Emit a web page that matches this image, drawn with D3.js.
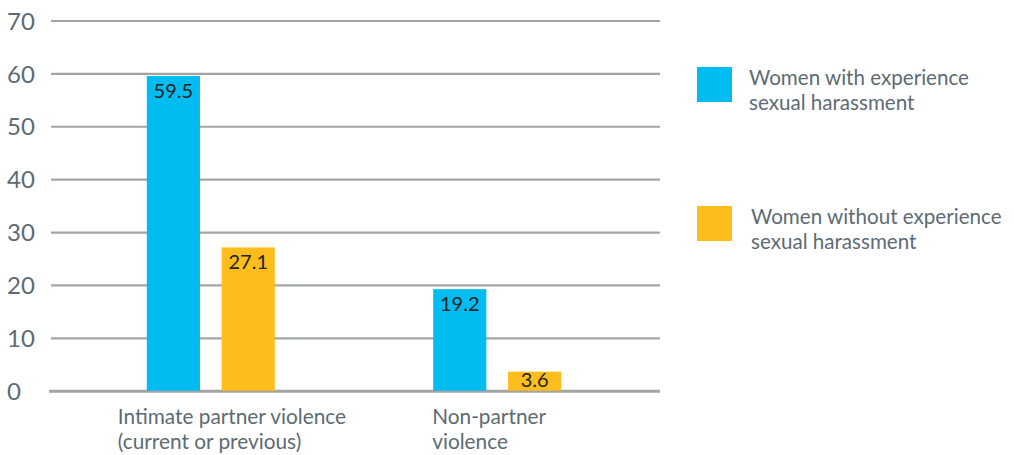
<!DOCTYPE html>
<html>
<head>
<meta charset="utf-8">
<script src="https://cdn.jsdelivr.net/npm/d3@7"></script>
<style>
  html, body { margin: 0; padding: 0; background: #fff; }
  svg { display: block; font-family: Lato, "Open Sans", sans-serif; }
</style>
</head>
<body>
<svg id="chart" width="1014" height="455"></svg>
<script>
// Share of women who experienced violence, by experience of sexual harassment (%)
const categories = [
  ["Intimate partner violence", "(current or previous)"],
  ["Non-partner", "violence"]
];
const seriesNames = [
  ["Women with experience", "sexual harassment"],
  ["Women without experience", "sexual harassment"]
];
const withHarassment = [59.5, 19.2];
const withoutHarassment = [27.1, 3.6];
const yTicks = [0, 10, 20, 30, 40, 50, 60, 70];

const colors = ["#00bcf1", "#fdbd1d"];
const series = [withHarassment, withoutHarassment];

const svg = d3.select("#chart");
const plot = { left: 51, right: 660, top: 20.5, bottom: 390.7 };

const y = d3.scaleLinear().domain([0, 70]).range([plot.bottom, plot.top]);
const catIdx = categories.map((_, i) => i);
const x0 = d3.scalePoint().domain(catIdx).range([plot.left - 2, plot.right - 1]).padding(0.565);
const x1 = d3.scaleBand().domain([0, 1]).range([-64, 64]).paddingInner(0.29);

// Gridlines
const yAxis = d3.axisLeft(y).tickValues(yTicks).tickSize(-(plot.right - plot.left)).tickFormat(d => d);
const gAxis = svg.append("g").attr("transform", `translate(${plot.left},0)`).call(yAxis);
gAxis.select(".domain").remove();
gAxis.selectAll(".tick line")
  .attr("stroke", "#a3a5a5")
  .attr("stroke-width", d => d === 0 ? 3 : 2.2)
  .attr("x1", d => d === 0 ? -2 : 0);
gAxis.selectAll(".tick text")
  .attr("x", -44)
  .attr("dy", "0.36em")
  .attr("text-anchor", "start")
  .attr("fill", "#5c6b74")
  .style("font-size", "24px")
  .style("font-family", "Lato, sans-serif");

// Bars
const groups = svg.append("g").selectAll("g")
  .data(catIdx)
  .join("g")
  .attr("transform", i => `translate(${x0(i)},0)`);

groups.selectAll("rect")
  .data(i => series.map((s, k) => ({ k, v: s[i] })))
  .join("rect")
  .attr("x", d => x1(d.k))
  .attr("width", x1.bandwidth())
  .attr("y", d => y(d.v))
  .attr("height", d => y(0) - y(d.v))
  .attr("fill", d => colors[d.k]);

// Value labels inside the top of each bar
groups.selectAll("text.val")
  .data(i => series.map((s, k) => ({ k, v: s[i] })))
  .join("text")
  .attr("class", "val")
  .attr("x", d => x1(d.k) + x1.bandwidth() / 2)
  .attr("y", d => Math.min(y(d.v) + 22, y(0) - 4))
  .attr("text-anchor", "middle")
  .attr("fill", "#242424")
  .style("font-size", "20px")
  .text(d => d.v);

// Category labels (two lines, left aligned)
const labelDx = [-93, -65];
const catLabels = svg.append("g").selectAll("text")
  .data(catIdx)
  .join("text")
  .attr("x", i => x0(i) + labelDx[i])
  .attr("y", 424)
  .attr("fill", "#5c6b74")
  .style("font-size", "20.8px");
catLabels.selectAll("tspan")
  .data(i => categories[i])
  .join("tspan")
  .attr("x", function () { return d3.select(this.parentNode).attr("x"); })
  .attr("dy", (d, j) => j === 0 ? 0 : 25)
  .text(d => d);

// Legend
const legend = svg.append("g").attr("transform", "translate(697,67)");
const items = legend.selectAll("g")
  .data(seriesNames)
  .join("g")
  .attr("transform", (d, i) => `translate(0,${i * 139})`);
items.append("rect")
  .attr("width", 35).attr("height", 35)
  .attr("fill", (d, i) => colors[i]);
const lt = items.append("text")
  .attr("x", (d, i) => i === 0 ? 52 : 54).attr("y", 18)
  .attr("fill", "#5c6b74")
  .style("font-size", "20.6px");
lt.selectAll("tspan")
  .data(d => d)
  .join("tspan")
  .attr("x", function () { return d3.select(this.parentNode).attr("x"); })
  .attr("dy", (d, j) => j === 0 ? 0 : 25)
  .text(d => d);
</script>
</body>
</html>
